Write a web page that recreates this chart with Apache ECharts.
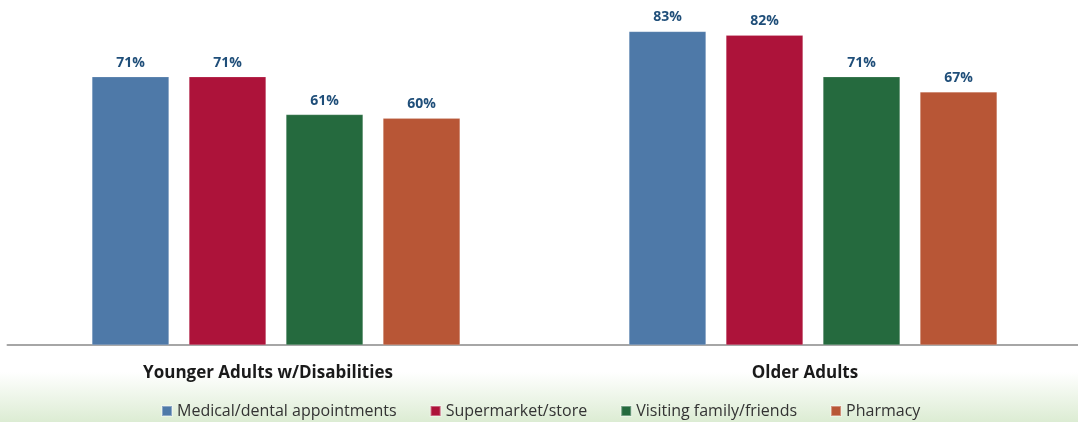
<!DOCTYPE html>
<html><head><meta charset="utf-8">
<script src="https://cdn.jsdelivr.net/npm/echarts@6/dist/echarts.min.js"></script>
<style>
html,body{margin:0;padding:0;overflow:hidden;width:1078px;height:422px;}
#c{width:1084px;height:422px;background:linear-gradient(to bottom,#ffffff 0px,#ffffff 372px,#dcecd3 422px);}
</style></head>
<body><div id="c"></div>
<script>
const categories = ["Younger Adults w/Disabilities", "Older Adults"];
const seriesNames = ["Medical/dental appointments", "Supermarket/store", "Visiting family/friends", "Pharmacy"];
const medical = [71, 83];
const supermarket = [71, 82];
const visiting = [61, 71];
const pharmacy = [60, 67];
const colors = ["#4e79a8", "#ad133a", "#256a3e", "#b85636"];
const values = [medical, supermarket, visiting, pharmacy];

const chart = echarts.init(document.getElementById('c'), null, {renderer: 'canvas'});
const font = '"Open Sans", Lato, sans-serif';
chart.setOption({
  animation: false,
  grid: {left: 7.5, right: 2.5, top: 5, bottom: 77},
  legend: {
    top: 398, left: 156, itemWidth: 10, itemHeight: 10, itemGap: 33,
    icon: 'rect',
    textStyle: {fontFamily: font, fontSize: 16, color: '#333'},
    data: seriesNames
  },
  xAxis: {
    type: 'category', data: categories,
    axisLine: {lineStyle: {color: '#a6a6a6', width: 2}},
    axisTick: {show: false},
    axisLabel: {margin: 20, padding: [0, 16, 0, 0], fontFamily: font, fontWeight: 'bold', fontSize: 17, color: '#1a1a1a'}
  },
  yAxis: {type: 'value', min: 0, max: 90, show: false, splitLine: {show: false}},
  series: seriesNames.map((n, i) => ({
    name: n, type: 'bar', data: values[i],
    barWidth: 77, barGap: '26%',
    itemStyle: {color: colors[i], borderColor: 'rgba(255,255,255,0.35)', borderWidth: 0.5},
    label: {show: true, position: 'top', distance: 7, formatter: '{c}%',
      fontFamily: font, fontWeight: 'bold', fontSize: 14, color: '#1f4e79'}
  }))
});
</script></body></html>
